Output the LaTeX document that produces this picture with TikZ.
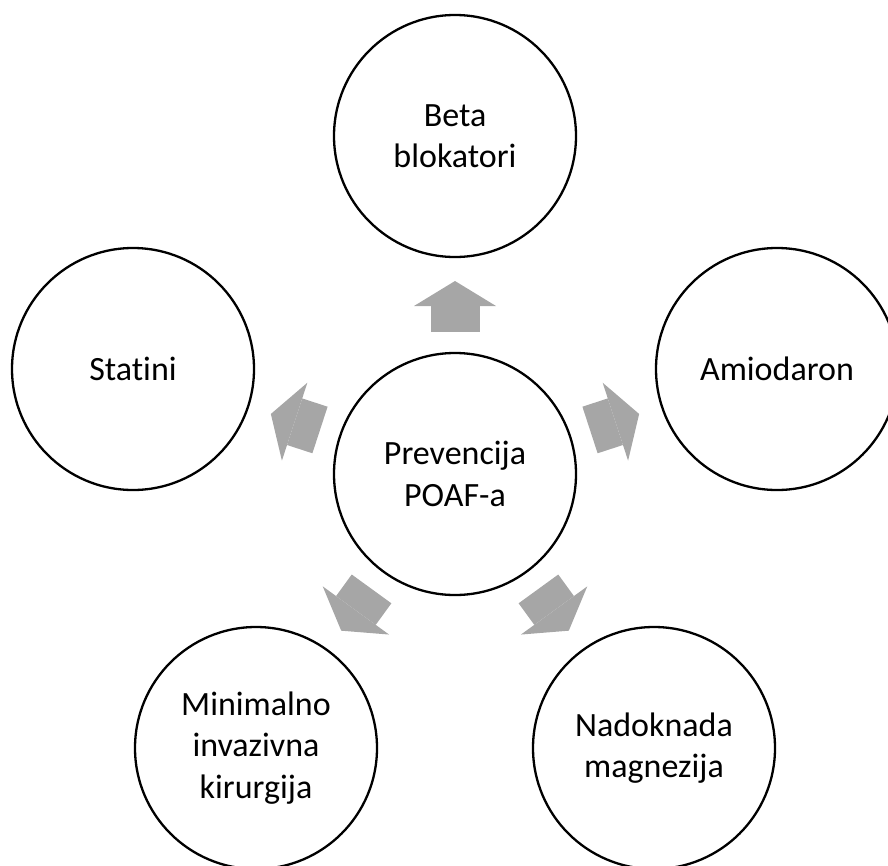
\documentclass[tikz,border=0pt]{standalone}
\usepackage{fontspec}
\setmainfont{Carlito}[Ligatures=NoCommon]
\usetikzlibrary{arrows.meta}
\definecolor{arrowgray}{RGB}{166,166,166}

\begin{document}
\begin{tikzpicture}[x=1pt,y=-1pt,
  bubble/.style={circle,draw,line width=2.3pt,minimum size=242pt,inner sep=0pt,outer sep=0pt,align=center,font=\fontsize{34}{41.5}\selectfont},
  fatarrow/.style={draw=arrowgray,line width=49pt,-{Triangle[width=82pt,length=25pt,line width=0pt]},shorten <=21pt,shorten >=24pt}]
\useasboundingbox (0,0) rectangle (888,865);
\node[bubble] (PREV) at (455,474) {Prevencija\\POAF-a};
\node[bubble] (BETA) at (455,136) {Beta\\blokatori};
\node[bubble] (AMIO) at (777,369) {Amiodaron};
\node[bubble] (MAGN) at (654,748) {Nadoknada\\magnezija};
\node[bubble] (KIRU) at (256,748) {Minimalno\\invazivna\\kirurgija};
\node[bubble] (STAT) at (133,369) {Statini};
\draw [fatarrow] (PREV) to (BETA);
\draw [fatarrow] (PREV) to (AMIO);
\draw [fatarrow] (PREV) to (MAGN);
\draw [fatarrow] (PREV) to (KIRU);
\draw [fatarrow] (PREV) to (STAT);
\end{tikzpicture}
\end{document}
